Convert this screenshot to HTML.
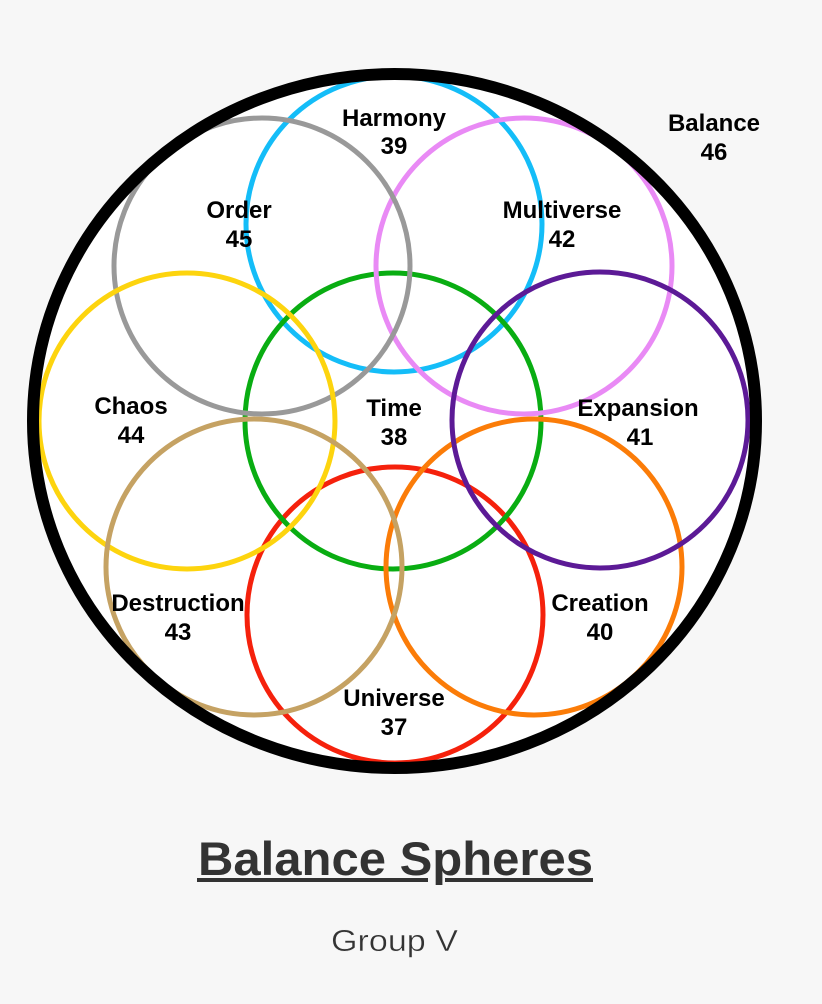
<!DOCTYPE html>
<html>
<head>
<meta charset="utf-8">
<style>
html,body{margin:0;padding:0;width:822px;height:1004px;background:#f7f7f7;overflow:hidden}
svg{display:block}
.l{font-family:"Liberation Sans",sans-serif;font-weight:700;font-size:24px;fill:#000;text-anchor:middle}
</style>
</head>
<body>
<svg width="822" height="1004" viewBox="0 0 822 1004" xmlns="http://www.w3.org/2000/svg">
<ellipse cx="394.5" cy="421" rx="361.5" ry="347" fill="#fff" stroke="none"/>
<g fill="none" stroke-width="5">
<circle cx="395" cy="615" r="148" stroke="#f5210c"/>
<circle cx="394" cy="224" r="148" stroke="#14bdf8"/>
<circle cx="393" cy="421" r="148" stroke="#09ad12"/>
<circle cx="524" cy="266" r="148" stroke="#e98af5"/>
<circle cx="534" cy="567" r="148" stroke="#fb7c08"/>
<circle cx="600" cy="420" r="148" stroke="#5c1a96"/>
<circle cx="262" cy="266" r="148" stroke="#999999"/>
<circle cx="187" cy="421" r="148" stroke="#fdd40e"/>
<circle cx="254" cy="567" r="148" stroke="#c5a263"/>
</g>
<ellipse cx="394.5" cy="421" rx="361.5" ry="347" fill="none" stroke="#000" stroke-width="12"/>
<g>
<text class="l" x="394" y="126">Harmony</text><text class="l" x="394" y="154">39</text>
<text class="l" x="239" y="218">Order</text><text class="l" x="239" y="247">45</text>
<text class="l" x="562" y="218">Multiverse</text><text class="l" x="562" y="247">42</text>
<text class="l" x="714" y="131">Balance</text><text class="l" x="714" y="160">46</text>
<text class="l" x="131" y="414">Chaos</text><text class="l" x="131" y="443">44</text>
<text class="l" x="394" y="416">Time</text><text class="l" x="394" y="445">38</text>
<text class="l" x="638" y="416">Expansion</text><text class="l" x="640" y="445">41</text>
<text class="l" x="178" y="611">Destruction</text><text class="l" x="178" y="640">43</text>
<text class="l" x="600" y="611">Creation</text><text class="l" x="600" y="640">40</text>
<text class="l" x="394" y="706">Universe</text><text class="l" x="394" y="735">37</text>
</g>
<text x="198" y="875" font-family="'Liberation Sans',sans-serif" font-weight="700" font-size="47" fill="#333" textLength="395" lengthAdjust="spacingAndGlyphs">Balance Spheres</text>
<rect x="197" y="878" width="231" height="4" fill="#333"/>
<rect x="445" y="878" width="148" height="4" fill="#333"/>
<text x="331" y="951" font-family="'Liberation Sans',sans-serif" font-size="31" fill="#333" stroke="#f7f7f7" stroke-width="0.4" textLength="127" lengthAdjust="spacingAndGlyphs">Group V</text>
</svg>
</body>
</html>
